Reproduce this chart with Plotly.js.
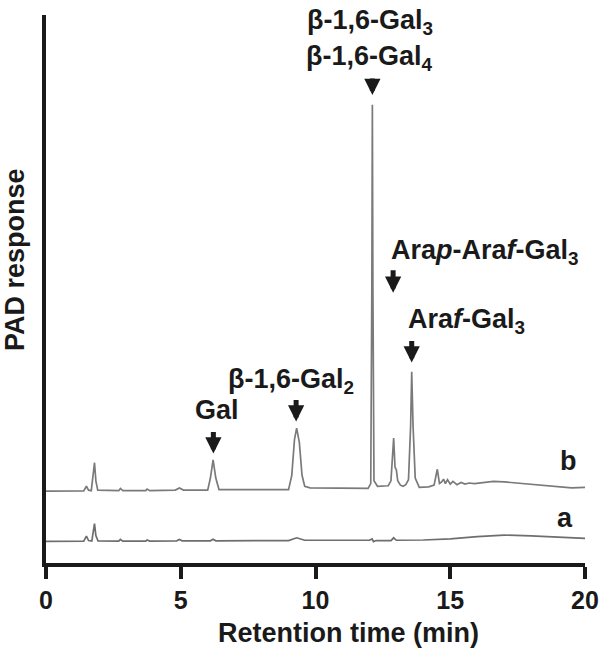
<!DOCTYPE html>
<html>
<head>
<meta charset="utf-8">
<script src="https://cdn.plot.ly/plotly-3.0.1.min.js"></script>
<style>
  body { margin: 0; background: #fff; }
  #graph { width: 600px; height: 653px; }
</style>
</head>
<body>
<div id="graph"></div>
<script>
// chromatogram b (sample), retention time in min and PAD response (arbitrary units)
var timeB = [0, 1.4, 1.5, 1.58, 1.68, 1.75, 1.8, 1.85, 1.92, 2.7, 2.76, 2.85, 3.7, 3.75, 3.85,
    4.8, 4.95, 5.1, 6.0, 6.1, 6.2, 6.3, 6.42, 9.0, 9.12, 9.22, 9.3, 9.4, 9.5, 9.6, 9.8,
    11.95, 12.05, 12.09, 12.11, 12.13, 12.17, 12.3, 12.6, 12.7, 12.8, 12.9, 12.95, 13.0, 13.05,
    13.15, 13.25, 13.35, 13.45, 13.53, 13.57, 13.62, 13.7, 13.85, 14.2, 14.4, 14.52, 14.6,
    14.68, 14.75, 14.82, 14.9, 15.0, 15.1, 15.25, 15.4, 15.55, 15.7, 15.9, 16.2, 16.6, 17.0,
    17.5, 18.0, 18.5, 19.0, 19.5, 20.0];
var respB = [13.1, 13.15, 14.0, 13.3, 13.2, 16.0, 18.3, 15.0, 13.3, 13.2, 13.6, 13.2, 13.2, 13.5, 13.2,
    13.3, 13.7, 13.3, 13.3, 15.5, 18.8, 15.5, 13.4, 13.4, 16.0, 22.5, 24.6, 22.0, 16.0, 14.0, 13.7,
    13.6, 14.5, 50.0, 83.6, 50.0, 15.0, 14.0, 14.0, 14.1, 15.0, 22.8, 17.5, 17.0, 15.0,
    14.2, 14.0, 14.3, 15.2, 25.0, 34.9, 25.0, 15.5, 13.8, 13.9, 14.2, 17.1, 14.5,
    14.8, 15.3, 14.5, 15.2, 14.4, 14.9, 14.3, 14.7, 14.4, 14.6, 14.5, 14.7, 14.9, 14.8,
    14.6, 14.3, 14.1, 13.9, 13.7, 13.8];

// chromatogram a (control)
var timeA = [0, 1.4, 1.5, 1.58, 1.7, 1.76, 1.8, 1.85, 1.93, 2.7, 2.76, 2.85, 3.7, 3.75, 3.85,
    4.85, 4.95, 5.05, 6.1, 6.2, 6.3, 9.0, 9.3, 9.6, 12.0, 12.1, 12.15, 12.25, 12.8, 12.9, 13.0,
    14.0, 15.0, 16.0, 17.0, 18.0, 19.0, 20.0];
var respA = [3.95, 4.0, 4.9, 4.1, 4.0, 5.5, 7.2, 5.0, 4.05, 4.0, 4.3, 4.0, 4.0, 4.2, 4.0,
    4.05, 4.3, 4.05, 4.05, 4.35, 4.05, 4.1, 4.6, 4.15, 4.15, 4.4, 3.9, 4.1, 4.1, 4.6, 4.15,
    4.2, 4.4, 4.8, 5.1, 4.95, 4.7, 4.5];

// peak assignments
var peakNames = ['Gal', 'β-1,6-Gal<sub>2</sub>', 'β-1,6-Gal<sub>3</sub>', 'β-1,6-Gal<sub>4</sub>',
    'Ara<i>p</i>-Ara<i>f</i>-Gal<sub>3</sub>', 'Ara<i>f</i>-Gal<sub>3</sub>'];
var peakTimes = [6.21, 9.28, 12.11, 12.88, 13.57];
var traceNames = ['a', 'b'];
var xTicks = [0, 5, 10, 15, 20];

function drawGraph() {
    var ink = '#1a1a1a';
    var lbl = {family: 'Liberation Sans, Arial, sans-serif', size: 27, color: ink};

    var data = [
        {x: timeA, y: respA, type: 'scatter', mode: 'lines', name: traceNames[0],
            line: {color: '#6e6e6e', width: 1.7}},
        {x: timeB, y: respB, type: 'scatter', mode: 'lines', name: traceNames[1],
            line: {color: '#7a7a7a', width: 1.7}}
    ];

    // text labels
    var annotations = [
        {x: 6.34, y: 27.9, text: peakNames[0]},
        {x: 9.09, y: 33.2, text: peakNames[1]},
        {x: 12.01, y: 98.8, text: peakNames[2]},
        {x: 12.01, y: 92.2, text: peakNames[3]},
        {x: 16.29, y: 56.7, text: peakNames[4]},
        {x: 15.62, y: 44.2, text: peakNames[5]},
        {x: 19.4, y: 18.6, text: traceNames[1]},
        {x: 19.27, y: 8.3, text: traceNames[0]}
    ].map(function (a) {
        a.text = '<b>' + a.text + '</b>';
        a.xref = 'x'; a.yref = 'y'; a.showarrow = false;
        a.xanchor = 'center'; a.yanchor = 'middle'; a.font = lbl;
        return a;
    });

    // down arrows (tip height, length in px)
    var tips = [20.0, 25.8, 85.4, 49.3, 36.6];
    var lens = [23, 23, 18, 24, 23];
    peakTimes.forEach(function (t, i) {
        annotations.push({x: t, y: tips[i], xref: 'x', yref: 'y', text: '',
            showarrow: true, ax: 0, ay: -lens[i], arrowhead: 2, arrowsize: 0.65,
            arrowwidth: 5, arrowcolor: ink, standoff: 0});
    });

    // axis titles
    annotations.push({x: 11.21, y: -0.128, xref: 'x', yref: 'paper', showarrow: false,
        text: '<b>Retention time (min)</b>', xanchor: 'center', yanchor: 'middle', font: lbl});
    annotations.push({x: 0, y: 0.553, xref: 'paper', yref: 'paper', showarrow: false,
        xshift: -31, textangle: -90, text: '<b>PAD response</b>',
        xanchor: 'center', yanchor: 'middle', font: lbl});

    var layout = {
        width: 600, height: 653,
        margin: {l: 46, r: 15, t: 15, b: 90},
        paper_bgcolor: '#fff', plot_bgcolor: '#fff',
        showlegend: false,
        xaxis: {
            range: [0, 20], tickvals: xTicks,
            ticktext: xTicks.map(function (v) { return '<b>' + v + '</b>'; }),
            showgrid: false, zeroline: false, showline: true, linecolor: ink, linewidth: 4,
            ticks: 'outside', ticklen: 12, tickwidth: 4, tickcolor: ink,
            tickfont: {family: 'Liberation Sans, Arial, sans-serif', size: 25, color: ink}
        },
        yaxis: {
            range: [0, 100], showticklabels: false, ticks: '',
            showgrid: false, zeroline: false, showline: true, linecolor: ink, linewidth: 4
        },
        annotations: annotations
    };

    Plotly.newPlot('graph', data, layout, {staticPlot: true});
}

drawGraph();
</script>
</body>
</html>
